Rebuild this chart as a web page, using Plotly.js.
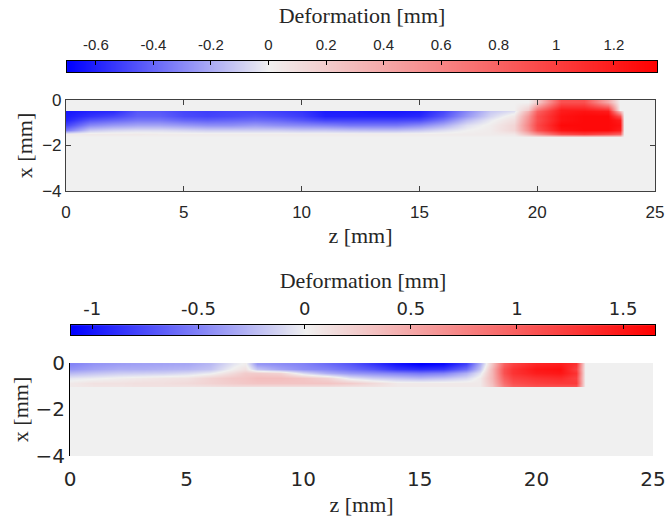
<!DOCTYPE html>
<html>
<head>
<meta charset="utf-8">
<script src="https://cdn.plot.ly/plotly-3.0.1.min.js"></script>
<style>html,body{margin:0;padding:0;background:#fff;}#chart{width:665px;height:521px;}</style>
</head>
<body>
<div id="chart"></div>
<script>
// ---------- Top panel data ----------
var topZ = [0, 1, 2, 3, 4, 5, 6, 7, 8, 9, 10, 11, 12, 13, 14, 15, 16, 17, 18, 19, 19.6, 20, 21, 22, 23, 23.5, 23.7];
var topX = [-0.1, -0.42, -0.5, -0.7, -0.9, -1.1, -1.3, -1.5, -1.62];
var topDef = [
  [0,0,0,0,0,0,0,0,0,0,0,0,0,0,0,0,0,0,0,0,0,0.2,0.9,0.9,0.4,0,0],
  [0,0,0,0,0,0,0,0,0,0,0,0,0,0,0,0,0,0,0,0,0.2,0.7,1.2,1.2,1.1,0,0],
  [-0.64,-0.6,-0.58,-0.45,-0.45,-0.5,-0.52,-0.5,-0.5,-0.52,-0.55,-0.62,-0.62,-0.64,-0.64,-0.62,-0.5,-0.3,-0.12,-0.05,0.35,0.8,1.2,1.25,1.2,0.3,0],
  [-0.62,-0.55,-0.5,-0.42,-0.42,-0.48,-0.5,-0.48,-0.45,-0.48,-0.52,-0.6,-0.6,-0.6,-0.6,-0.58,-0.45,-0.25,-0.08,0.05,0.5,0.9,1.25,1.3,1.3,0.9,0],
  [-0.6,-0.45,-0.4,-0.35,-0.35,-0.4,-0.42,-0.4,-0.38,-0.4,-0.45,-0.5,-0.5,-0.5,-0.5,-0.48,-0.35,-0.15,-0.02,0.1,0.55,0.9,1.25,1.3,1.3,1.2,0],
  [-0.5,-0.3,-0.25,-0.22,-0.22,-0.25,-0.28,-0.28,-0.25,-0.28,-0.3,-0.32,-0.35,-0.35,-0.35,-0.3,-0.2,-0.05,0.02,0.15,0.6,0.95,1.3,1.3,1.3,1.25,0],
  [-0.35,-0.12,-0.08,-0.06,-0.06,-0.08,-0.1,-0.1,-0.1,-0.1,-0.12,-0.12,-0.14,-0.15,-0.15,-0.12,-0.06,0,0.03,0.15,0.55,0.9,1.25,1.3,1.3,1.2,0],
  [0.03,0.04,0.04,0.04,0.03,0.03,0.03,0.03,0.03,0.03,0.03,0.03,0.03,0.03,0.03,0.03,0.03,0.03,0.03,0.05,0.3,0.5,0.9,1.0,0.9,0.8,0],
  [0,0,0,0,0,0,0,0,0,0,0,0,0,0,0,0,0,0,0,0,0,0,0,0,0,0,0]
];
var topRange = [-0.7, 1.35];
var topTicks = [-0.6, -0.4, -0.2, 0, 0.2, 0.4, 0.6, 0.8, 1, 1.2];
var topTickText = ['-0.6','-0.4','-0.2','0','0.2','0.4','0.6','0.8','1','1.2'];

// ---------- Bottom panel data ----------
var botZ = [0, 1, 2, 3, 4, 5, 6, 7, 7.5, 8, 9, 10, 11, 12, 13, 14, 15, 16, 17, 17.6, 18.1, 18.6, 19, 20, 21, 21.7, 22.1];
var botX = [-0.05, -0.25, -0.45, -0.65, -0.85, -0.97, -1.05];
var botDef = [
  [-0.5,-0.42,-0.38,-0.36,-0.35,-0.33,-0.25,-0.05,0.03,-0.4,-0.45,-0.5,-0.6,-0.7,-0.85,-1.0,-1.1,-1.05,-0.8,-0.3,0.3,1.0,1.2,1.4,1.45,1.3,0],
  [-0.42,-0.35,-0.3,-0.3,-0.28,-0.26,-0.2,0.02,0.1,-0.2,-0.35,-0.45,-0.5,-0.6,-0.7,-0.85,-0.9,-0.85,-0.6,-0.2,0.4,1.1,1.3,1.5,1.55,1.2,0],
  [-0.25,-0.2,-0.16,-0.15,-0.14,-0.1,-0.02,0.15,0.25,0.25,0.2,-0.1,-0.3,-0.4,-0.45,-0.5,-0.55,-0.5,-0.3,-0.05,0.4,1.1,1.3,1.45,1.5,1.3,0],
  [-0.05,-0.02,0.02,0.05,0.08,0.1,0.2,0.28,0.3,0.35,0.35,0.3,0.2,-0.05,-0.15,-0.2,-0.25,-0.2,-0.1,0.05,0.4,1.0,1.2,1.3,1.35,1.2,0],
  [0.05,0.1,0.1,0.12,0.12,0.15,0.2,0.25,0.28,0.3,0.3,0.3,0.3,0.25,0.15,0.05,0.05,0.05,0.05,0.05,0.35,0.9,1.1,1.2,1.25,1.25,0],
  [0.05,0.08,0.08,0.1,0.1,0.1,0.12,0.15,0.15,0.15,0.15,0.15,0.15,0.12,0.1,0.05,0.05,0.05,0.05,0.05,0.3,0.8,1.0,1.1,1.1,1.1,0],
  [0,0,0,0,0,0,0,0,0,0,0,0,0,0,0,0,0,0,0,0,0,0,0,0,0,0,0]
];
var botRange = [-1.1, 1.65];
var botTicks = [-1, -0.5, 0, 0.5, 1, 1.5];
var botTickText = ['-1','-0.5','0','0.5','1','1.5'];

// axis ticks
var zTicks = [0, 5, 10, 15, 20, 25];
var xTicks = [0, -2, -4];

function cscale(r) {
  var p = (0 - r[0]) / (r[1] - r[0]);
  return [[0, 'rgb(0,0,255)'], [p, 'rgb(240,240,240)'], [1, 'rgb(255,0,0)']];
}

var serif = 'Liberation Serif, DejaVu Serif, serif';
var sansTop = 'Liberation Sans, Arial, sans-serif';
var sansBot = 'DejaVu Sans, sans-serif';

var traces = [
  {type: 'heatmap', x: topZ, y: topX, z: topDef, zmin: topRange[0], zmax: topRange[1],
   colorscale: cscale(topRange), showscale: false, zsmooth: 'best', xaxis: 'x', yaxis: 'y', hoverinfo: 'skip'},
  {type: 'heatmap', x: botZ, y: botX, z: botDef, zmin: botRange[0], zmax: botRange[1],
   colorscale: cscale(botRange), showscale: false, zsmooth: 'best', xaxis: 'x2', yaxis: 'y2', hoverinfo: 'skip'},
  // colour bars built from the colour range itself
  {type: 'heatmap', x: [topRange[0], 0, topRange[1]], y: [0, 1],
   z: [[topRange[0], 0, topRange[1]], [topRange[0], 0, topRange[1]]],
   zmin: topRange[0], zmax: topRange[1], colorscale: cscale(topRange), showscale: false,
   zsmooth: 'best', xaxis: 'x3', yaxis: 'y3', hoverinfo: 'skip'},
  {type: 'heatmap', x: [botRange[0], 0, botRange[1]], y: [0, 1],
   z: [[botRange[0], 0, botRange[1]], [botRange[0], 0, botRange[1]]],
   zmin: botRange[0], zmax: botRange[1], colorscale: cscale(botRange), showscale: false,
   zsmooth: 'best', xaxis: 'x4', yaxis: 'y4', hoverinfo: 'skip'}
];

var frameCol = '#404040';
var txt = '#262626';
var layout = {
  width: 665, height: 521,
  margin: {l: 0, r: 0, t: 0, b: 0},
  paper_bgcolor: '#ffffff',
  plot_bgcolor: '#f0f0f0',
  showlegend: false,
  // top main
  xaxis: {domain: [0.0992, 0.985], anchor: 'y', range: [0, 25], tickvals: zTicks,
    ticks: 'inside', ticklen: 5, tickcolor: frameCol, showline: true, linecolor: frameCol, linewidth: 1, mirror: 'ticks',
    showgrid: false, zeroline: false, tickfont: {family: sansTop, size: 17, color: txt},
    ticklabelstandoff: 6, ticklabeloverflow: 'allow',
    title: {text: 'z [mm]', font: {family: serif, size: 22, color: txt}, standoff: 6}},
  yaxis: {domain: [0.6334, 0.8081], anchor: 'x', range: [-4, 0], tickvals: xTicks,
    ticks: 'inside', ticklen: 5, tickcolor: frameCol, showline: true, linecolor: frameCol, linewidth: 1, mirror: 'ticks',
    showgrid: false, zeroline: false, tickfont: {family: sansTop, size: 17, color: txt},
    title: {text: 'x [mm]', font: {family: serif, size: 22, color: txt}, standoff: 3}},
  // bottom main
  xaxis2: {domain: [0.1053, 0.982], anchor: 'y2', range: [0, 25], tickvals: zTicks,
    ticks: '', showline: false, showgrid: false, zeroline: false,
    tickfont: {family: sansBot, size: 20, color: txt}, ticklabelstandoff: 9, ticklabeloverflow: 'allow',
    title: {text: 'z [mm]', font: {family: serif, size: 22, color: txt}, standoff: 6}},
  yaxis2: {domain: [0.1248, 0.3033], anchor: 'x2', range: [-4, 0], tickvals: xTicks,
    ticks: '', showline: true, linecolor: '#000', linewidth: 1, showgrid: false, zeroline: false,
    tickfont: {family: sansBot, size: 20, color: txt},
    title: {text: 'x [mm]', font: {family: serif, size: 22, color: txt}, standoff: 0}},
  // top colour bar
  xaxis3: {domain: [0.1008, 0.988], anchor: 'y3', side: 'top', range: topRange, tickvals: topTicks, ticktext: topTickText,
    ticks: 'inside', ticklen: 4, tickcolor: '#000', showline: true, linecolor: '#000', linewidth: 1, mirror: true,
    showgrid: false, zeroline: false, tickfont: {family: sansTop, size: 15, color: txt}, ticklabelstandoff: 4,
    title: {text: 'Deformation [mm]', font: {family: serif, size: 22, color: txt}, standoff: 6}},
  yaxis3: {domain: [0.8618, 0.8829], anchor: 'x3', range: [-0.5, 1.5], showticklabels: false, ticks: '',
    showline: true, linecolor: '#000', mirror: true, showgrid: false, zeroline: false},
  // bottom colour bar
  xaxis4: {domain: [0.1068, 0.985], anchor: 'y4', side: 'top', range: botRange, tickvals: botTicks, ticktext: botTickText,
    ticks: 'inside', ticklen: 4, tickcolor: '#000', showline: true, linecolor: '#000', linewidth: 1, mirror: true,
    showgrid: false, zeroline: false, tickfont: {family: sansBot, size: 18, color: txt}, ticklabelstandoff: 2,
    title: {text: 'Deformation [mm]', font: {family: serif, size: 22, color: txt}, standoff: 3}},
  yaxis4: {domain: [0.357, 0.376], anchor: 'x4', range: [-0.5, 1.5], showticklabels: false, ticks: '',
    showline: true, linecolor: '#000', mirror: true, showgrid: false, zeroline: false}
};

Plotly.newPlot('chart', traces, layout, {staticPlot: true, displayModeBar: false});
</script>
</body>
</html>
